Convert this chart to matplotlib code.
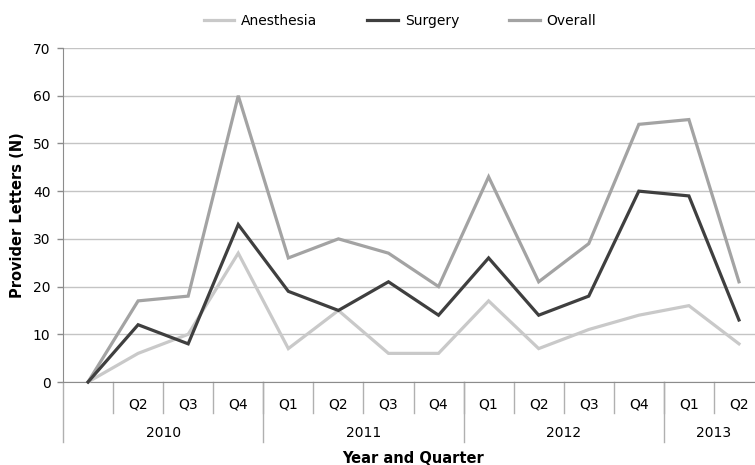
import matplotlib
matplotlib.use("Agg")
import matplotlib.pyplot as plt
import matplotlib.transforms as mtransforms

plt.rcParams["font.family"] = "DejaVu Sans"

quarters = ["", "Q2", "Q3", "Q4", "Q1", "Q2", "Q3", "Q4",
            "Q1", "Q2", "Q3", "Q4", "Q1", "Q2"]
years = ["2010", "2011", "2012", "2013"]
year_counts = [4, 4, 4, 2]

anesthesia = [0, 6, 10, 27, 7, 15, 6, 6, 17, 7, 11, 14, 16, 8]
surgery = [0, 12, 8, 33, 19, 15, 21, 14, 26, 14, 18, 40, 39, 13]
overall = [0, 17, 18, 60, 26, 30, 27, 20, 43, 21, 29, 54, 55, 21]

W, H = 755, 465
fig = plt.figure(figsize=(W / 100, H / 100), dpi=100)
# axes box in pixels: left 63, y0 at 382, y70 at 48, category width ~50
ax = fig.add_axes([63 / W, (H - 382) / H, 701 / W, 334 / H])

x = list(range(len(quarters)))
lw = 2.3
ax.plot(x, anesthesia, color="#c9c9c9", lw=lw, label="Anesthesia",
        solid_joinstyle="miter", clip_on=False, zorder=3)
ax.plot(x, surgery, color="#3f3f3f", lw=lw, label="Surgery",
        solid_joinstyle="miter", clip_on=False, zorder=4)
ax.plot(x, overall, color="#a3a3a3", lw=lw, label="Overall",
        solid_joinstyle="miter", clip_on=False, zorder=3)

ax.set_xlim(-0.5, len(quarters) - 0.5)
ax.set_ylim(0, 70)
ax.set_yticks(range(0, 71, 10))
ax.yaxis.grid(True, color="#c4c4c4", lw=1)
ax.set_axisbelow(True)
ax.tick_params(axis="y", length=4, width=1, color="#8c8c8c", pad=5,
               labelsize=10)
ax.set_xticks([])
for s in ["top", "right"]:
    ax.spines[s].set_visible(False)
ax.spines["left"].set_color("#8c8c8c")
ax.spines["bottom"].set_color("#8c8c8c")

# multi-level category axis
trans = mtransforms.blended_transform_factory(ax.transData, ax.transAxes)
q_depth = 31 / 334
y_depth = 60 / 334
for i, q in enumerate(quarters):
    ax.text(i, -22 / 334, q, transform=trans, ha="center", va="center",
            fontsize=10)
    if i > 0:
        ax.plot([i - 0.5, i - 0.5], [0, -q_depth], transform=trans,
                color="#b0b0b0", lw=1, clip_on=False)
start = 0
for yr, n in zip(years, year_counts):
    ax.plot([start - 0.5, start - 0.5], [0, -y_depth], transform=trans,
            color="#b0b0b0", lw=1, clip_on=False)
    ax.text(start - 0.5 + n / 2, -51 / 334, yr, transform=trans,
            ha="center", va="center", fontsize=10)
    start += n

ax.text(0.5, -76 / 334, "Year and Quarter", transform=ax.transAxes,
        ha="center", va="center", fontsize=10.5, fontweight="bold")
fig.text(18 / W, 1 - 215 / H, "Provider Letters (N)", rotation=90,
         ha="center", va="center", fontsize=10.5, fontweight="bold")

fig.legend(loc="center", bbox_to_anchor=(400 / W, 1 - 21 / H), ncol=3,
           frameon=False, fontsize=10, handlelength=2.2, handletextpad=0.5,
           columnspacing=3.6)

fig.savefig("out.png", dpi=100)
